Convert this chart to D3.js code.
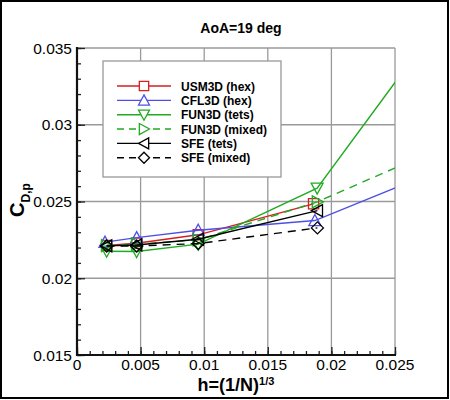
<!DOCTYPE html>
<html><head><meta charset="utf-8">
<script src="https://cdn.jsdelivr.net/npm/d3@7"></script>
<style>body{margin:0;background:#fff}svg{display:block}text{font-family:"Liberation Sans",Arial,sans-serif}</style>
</head><body>
<svg id="c" width="450" height="400"></svg>
<script>
// ---- data ----
const seriesNames = ["USM3D (hex)","CFL3D (hex)","FUN3D (tets)","FUN3D (mixed)","SFE (tets)","SFE (mixed)"];
const usm3dX = [0.00233,0.00469,0.00953,0.0186];
const usm3dY = [0.02213,0.02228,0.02283,0.02485];
const cfl3dX = [0.0022,0.00469,0.00953,0.0187,0.0375];
const cfl3dY = [0.02235,0.02265,0.02313,0.02376,0.0301];
const fun3dTetsX = [0.00233,0.00469,0.00953,0.01888,0.0375];
const fun3dTetsY = [0.02176,0.02174,0.02222,0.02587,0.0468];
const fun3dMixX = [0.00233,0.00469,0.00953,0.0189,0.0375];
const fun3dMixY = [0.02213,0.02222,0.0225,0.02498,0.0317];
const sfeTetsX = [0.00233,0.00469,0.00953,0.0189];
const sfeTetsY = [0.02211,0.02217,0.02254,0.02441];
const sfeMixX = [0.00233,0.00469,0.00953,0.0189];
const sfeMixY = [0.0221,0.0221,0.02226,0.02328];
const xTicks = [0,0.005,0.01,0.015,0.02,0.025];
const xTickLabels = ["0","0.005","0.01","0.015","0.02","0.025"];
const yTicks = [0.015,0.02,0.025,0.03,0.035];
const yTickLabels = ["0.015","0.02","0.025","0.03","0.035"];

const styles = [
  {color:"#d42020", dash:null, sym:"square"},
  {color:"#4f4fe6", dash:null, sym:"triUp"},
  {color:"#22aa22", dash:null, sym:"triDown"},
  {color:"#22aa22", dash:"8,6", sym:"triRight"},
  {color:"#000000", dash:null, sym:"triLeft"},
  {color:"#000000", dash:"8,6", sym:"diamond"}
];
const seriesX = [usm3dX,cfl3dX,fun3dTetsX,fun3dMixX,sfeTetsX,sfeMixX];
const seriesY = [usm3dY,cfl3dY,fun3dTetsY,fun3dMixY,sfeTetsY,sfeMixY];

function sym(type, r){
  const h=r*0.85;
  switch(type){
    case "square": return `M${-r*0.85},${-r*0.85}H${r*0.85}V${r*0.85}H${-r*0.85}Z`;
    case "triUp": return `M0,${-r}L${r},${h}L${-r},${h}Z`;
    case "triDown": return `M0,${r}L${r},${-h}L${-r},${-h}Z`;
    case "triRight": return `M${r},0L${-h},${r}L${-h},${-r}Z`;
    case "triLeft": return `M${-r},0L${h},${r}L${h},${-r}Z`;
    case "diamond": return `M0,${-r}L${r},0L0,${r}L${-r},0Z`;
  }
}

const svg = d3.select("#c");
const L=77,R=395,T=48,B=355;
const x = d3.scaleLinear().domain([0,0.025]).range([L,R]);
const y = d3.scaleLinear().domain([0.015,0.035]).range([B,T]);

svg.append("rect").attr("x",1).attr("y",1).attr("width",447).attr("height",397)
  .attr("fill","#fff").attr("stroke","#000").attr("stroke-width",2);

// grid
const g = svg.append("g");
g.selectAll(".vg").data(xTicks.slice(1)).enter().append("line")
  .attr("x1",d=>x(d)).attr("x2",d=>x(d)).attr("y1",T).attr("y2",B)
  .attr("stroke","#9a9a9a").attr("stroke-width",1.3);
g.selectAll(".hg").data(yTicks.slice(1)).enter().append("line")
  .attr("x1",L).attr("x2",R).attr("y1",d=>y(d)).attr("y2",d=>y(d))
  .attr("stroke","#9a9a9a").attr("stroke-width",1.3);

// axes with inward ticks
const minorX = d3.range(0,0.02501,0.001);
const minorY = d3.range(0.015,0.03501,0.001);
const xAxis = svg.append("g").attr("transform",`translate(0,${B})`)
  .call(d3.axisTop(x).tickValues(minorX).tickSize(4).tickFormat(""));
const xAxisMaj = svg.append("g").attr("transform",`translate(0,${B})`)
  .call(d3.axisTop(x).tickValues(xTicks).tickSize(8).tickFormat(""));
const yAxis = svg.append("g").attr("transform",`translate(${L},0)`)
  .call(d3.axisRight(y).tickValues(minorY).tickSize(4).tickFormat(""));
const yAxisMaj = svg.append("g").attr("transform",`translate(${L},0)`)
  .call(d3.axisRight(y).tickValues(yTicks).tickSize(8).tickFormat(""));
[xAxis,xAxisMaj,yAxis,yAxisMaj].forEach(a=>{
  a.select(".domain").remove();
  a.selectAll("line").attr("stroke","#222").attr("stroke-width",1.3);
});
svg.append("line").attr("x1",L).attr("x2",R+1).attr("y1",B).attr("y2",B).attr("stroke","#111").attr("stroke-width",2.2);
svg.append("line").attr("x1",L).attr("x2",L).attr("y1",T-1).attr("y2",B+1).attr("stroke","#111").attr("stroke-width",2.2);

// tick labels
svg.selectAll(".xl").data(xTicks).enter().append("text")
  .attr("x",d=>x(d)).attr("y",369.5).attr("text-anchor","middle")
  .attr("font-size","15.5px").text((d,i)=>xTickLabels[i]);
svg.selectAll(".yl").data(yTicks).enter().append("text")
  .attr("x",72).attr("y",d=>y(d)+5.5).attr("text-anchor","end")
  .attr("font-size","15.5px").text((d,i)=>yTickLabels[i]);

// title and axis labels
svg.append("text").attr("x",241).attr("y",33).attr("text-anchor","middle")
  .attr("font-size","14px").attr("font-weight","bold").text("AoA=19 deg");
const xl = svg.append("text").attr("x",236).attr("y",391).attr("text-anchor","middle")
  .attr("font-size","18px").attr("font-weight","bold");
xl.append("tspan").text("h=(1/N)");
xl.append("tspan").attr("dy",-6).attr("font-size","11px").text("1/3");
const yl = svg.append("text").attr("transform","translate(24,200) rotate(-90)")
  .attr("text-anchor","middle").attr("font-size","20px").attr("font-weight","bold");
yl.append("tspan").text("C");
yl.append("tspan").attr("dy",6).attr("font-size","12px").text("D,p");

// data
svg.append("clipPath").attr("id","clip").append("rect")
  .attr("x",L).attr("y",T).attr("width",R-L).attr("height",B-T);
const plot = svg.append("g").attr("clip-path","url(#clip)");
const line = d3.line().x(d=>x(d[0])).y(d=>y(d[1]));
seriesNames.forEach((n,i)=>{
  const pts = seriesX[i].map((v,j)=>[v,seriesY[i][j]]);
  const s = styles[i];
  plot.append("path").datum(pts).attr("d",line).attr("fill","none")
    .attr("stroke",s.color).attr("stroke-width",1.4)
    .attr("stroke-dasharray",s.dash);
  plot.selectAll(null).data(pts).enter().append("path")
    .attr("transform",d=>`translate(${x(d[0])},${y(d[1])})`)
    .attr("d",sym(s.sym,6)).attr("fill","none")
    .attr("stroke",s.color).attr("stroke-width",1.3);
});

// legend
const lg = svg.append("g");
lg.append("rect").attr("x",103).attr("y",61).attr("width",178).attr("height",116)
  .attr("fill","#fff").attr("stroke","#999").attr("stroke-width",1.3);
seriesNames.forEach((n,i)=>{
  const yy = 86 + i*14.35;
  const s = styles[i];
  lg.append("line").attr("x1",117).attr("x2",171).attr("y1",yy).attr("y2",yy)
    .attr("stroke",s.color).attr("stroke-width",1.4).attr("stroke-dasharray",s.dash?"7,5":null);
  lg.append("path").attr("transform",`translate(144,${yy})`).attr("d",sym(s.sym,5.5))
    .attr("fill","#fff").attr("stroke",s.color).attr("stroke-width",1.3);
  lg.append("text").attr("x",181).attr("y",yy+4.7).attr("font-size","12px")
    .attr("font-weight","bold").text(n);
});
</script>
</body></html>
